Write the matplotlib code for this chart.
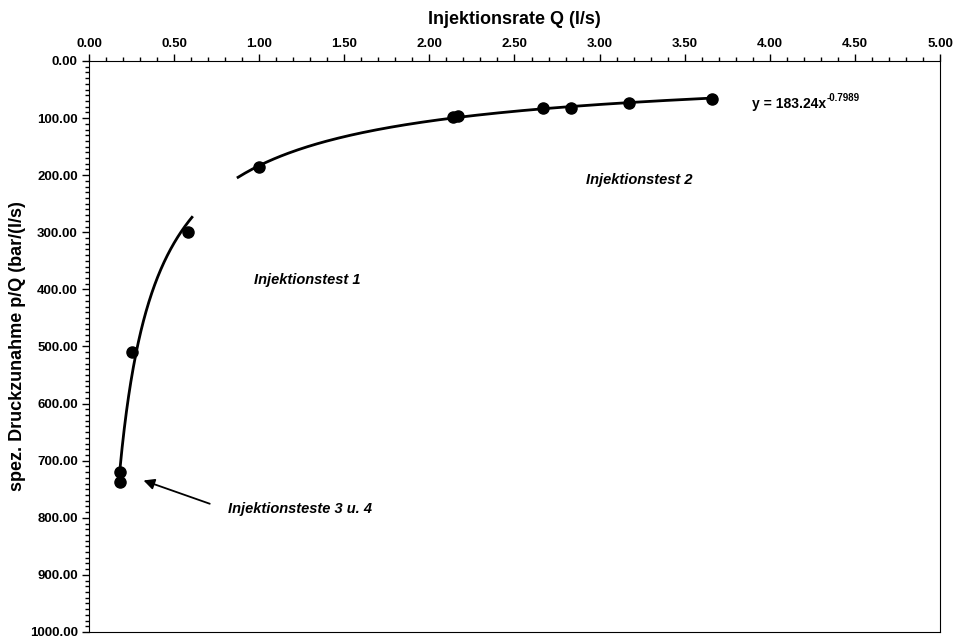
import matplotlib.pyplot as plt
import numpy as np
from matplotlib.ticker import MultipleLocator, FormatStrFormatter

plt.rcParams['font.family'] = ['Liberation Sans', 'DejaVu Sans']
plt.rcParams['font.weight'] = 'bold'

# measured injection rate Q (l/s) and specific pressure increase p/Q
Q = [0.18, 0.18, 0.25, 0.58, 1.00, 2.14, 2.17, 2.67, 2.83, 3.17, 3.66]
pQ = [737, 720, 510, 300, 186, 98, 96, 83, 83, 73, 67]

# power law trend y = a * x^b, drawn over two ranges
a = 183.24
b = -0.7989
trend_ranges = [(0.182, 0.605), (0.876, 3.67)]

fig = plt.figure(figsize=(9.65, 6.4), dpi=100)
ax = fig.add_axes([0.0922, 0.0125, 0.8819, 0.8922])

for lo, hi in trend_ranges:
    xs = np.linspace(lo, hi, 200)
    ax.plot(xs, a * xs ** b, color='black', lw=2.0, zorder=2)

ax.plot(Q, pQ, 'o', color='black', markersize=8, zorder=3)

ax.set_xlim(0, 5)
ax.set_ylim(1000, 0)
ax.xaxis.tick_top()
ax.xaxis.set_label_position('top')
ax.xaxis.set_major_locator(MultipleLocator(0.5))
ax.xaxis.set_minor_locator(MultipleLocator(0.1))
ax.yaxis.set_major_locator(MultipleLocator(100))
ax.yaxis.set_minor_locator(MultipleLocator(10))
ax.xaxis.set_major_formatter(FormatStrFormatter('%.2f'))
ax.yaxis.set_major_formatter(FormatStrFormatter('%.2f'))
ax.tick_params(which='major', length=5, width=1, labelsize=9.5, pad=3)
ax.tick_params(which='minor', length=3, width=1)
for lab in ax.get_xticklabels() + ax.get_yticklabels():
    lab.set_fontweight('bold')

ax.set_xlabel('Injektionsrate Q (l/s)', fontsize=13, fontweight='bold', labelpad=10)
ax.set_ylabel('spez. Druckzunahme p/Q (bar/(l/s)', fontsize=13, fontweight='bold', labelpad=3)

# trend equation with the exponent as a raised small label
eq = ax.text(3.895, 75, 'y = %.2fx' % a, fontsize=10, fontweight='bold',
             va='center', ha='left')
ax.annotate('%.4f' % b, xy=(1, 1), xycoords=eq, xytext=(0.5, -1),
            textcoords='offset points', fontsize=7, fontweight='bold',
            va='center', ha='left')

ax.text(2.92, 208, 'Injektionstest 2', fontsize=10.5, fontweight='bold', style='italic',
        va='center', ha='left')
ax.text(0.969, 383, 'Injektionstest 1', fontsize=10.5, fontweight='bold', style='italic',
        va='center', ha='left')
ax.text(0.817, 785, 'Injektionsteste 3 u. 4', fontsize=10.5, fontweight='bold', style='italic',
        va='center', ha='left')
ax.annotate('', xy=(0.305, 733), xytext=(0.725, 777),
            arrowprops=dict(arrowstyle='-|>', color='black', lw=1.3, mutation_scale=16))

fig.savefig('out.png', dpi=100)
